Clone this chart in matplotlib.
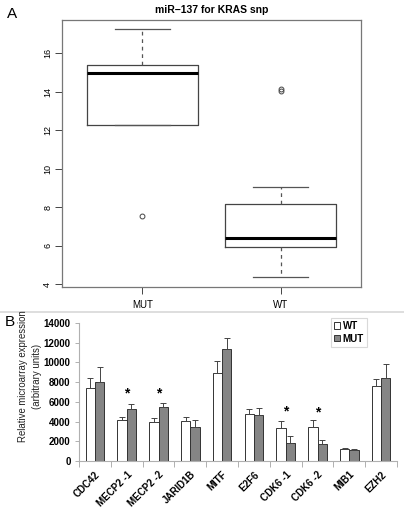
import numpy as np
import matplotlib.pyplot as plt
import matplotlib.transforms as mtransforms

plt.rcParams['font.family'] = ['Liberation Sans', 'DejaVu Sans']

# panel A: box plot stats
box_labels = ['MUT', 'WT']
box_whislo = [12.25, 4.40]
box_q1 = [12.25, 5.93]
box_med = [14.95, 6.42]
box_q3 = [15.37, 8.17]
box_whishi = [17.25, 9.03]
box_fliers = [[7.55], [14.02, 14.15]]

# panel B: microarray expression
genes = ['CDC42', 'MECP2 -1', 'MECP2 -2', 'JARID1B', 'MITF', 'E2F6',
         'CDK6 -1', 'CDK6 -2', 'MIB1', 'EZH2']
wt_vals = [7450, 4170, 3930, 4040, 8880, 4720, 3390, 3490, 1200, 7620]
wt_err = [950, 340, 410, 440, 1290, 550, 710, 710, 100, 700]
mut_vals = [8000, 5230, 5470, 3490, 11400, 4620, 1810, 1680, 1100, 8420]
mut_err = [1520, 520, 380, 710, 1070, 720, 690, 410, 100, 1450]
star_groups = [1, 2, 6, 7]
star_y = [6900, 6900, 5050, 4900]

fig = plt.figure(figsize=(4.04, 5.18), dpi=100)

# ---- panel A ----
axA = fig.add_axes([62/404, 1-286.5/518, (361-62)/404, (286.5-20)/518])
stats = []
for i in range(2):
    stats.append(dict(label=box_labels[i], whislo=box_whislo[i], q1=box_q1[i],
                      med=box_med[i], q3=box_q3[i], whishi=box_whishi[i],
                      fliers=box_fliers[i]))
axA.bxp(stats, positions=[1, 2], widths=0.8, showfliers=True,
        boxprops=dict(color='#444444', lw=0.9),
        medianprops=dict(color='black', lw=2.2),
        whiskerprops=dict(color='#555555', lw=0.9, ls=(0, (3, 3))),
        capprops=dict(color='#555555', lw=0.9),
        capwidths=0.4,
        flierprops=dict(marker='o', markersize=3.5, markerfacecolor='none',
                        markeredgecolor='#444444', markeredgewidth=0.7))
axA.set_xlim(0.42, 2.58)
axA.set_ylim(3.89, 17.71)
axA.set_yticks([4, 6, 8, 10, 12, 14, 16])
axA.tick_params(axis='y', labelsize=6.5, labelrotation=90, length=5, width=0.7,
                color='#444444', pad=2)
axA.tick_params(axis='x', labelsize=7, length=5, width=0.7, color='#444444', pad=5)
for lab in axA.get_yticklabels():
    lab.set_va('center')
for s in axA.spines.values():
    s.set_color('#777777')
    s.set_linewidth(0.9)
axA.set_title('miR\u2212137 for KRAS snp', fontsize=7.5, fontweight='bold', pad=5)
fig.text(12/404, 1-14/518, 'A', fontsize=11, ha='center', va='center')

# separator line
fig.add_artist(plt.Line2D([0, 1], [1-312/518, 1-312/518], color='#d8d8d8', lw=1.2))

# ---- panel B ----
axB = fig.add_axes([79/404, 1-461/518, (397-79)/404, (461-323)/518])
x = np.arange(len(genes)) + 0.5
bw = 0.29
axB.bar(x - bw/2, wt_vals, bw, color='white', edgecolor='#333333', lw=0.7,
        yerr=[np.zeros(len(genes)), wt_err], ecolor='#444444',
        error_kw=dict(lw=0.7, capsize=2, capthick=0.7), label='WT')
axB.bar(x + bw/2, mut_vals, bw, color='#858585', edgecolor='#333333', lw=0.7,
        yerr=[np.zeros(len(genes)), mut_err], ecolor='#444444',
        error_kw=dict(lw=0.7, capsize=2, capthick=0.7), label='MUT')
for g, sy in zip(star_groups, star_y):
    axB.text(x[g], sy, '*', ha='center', va='center', fontsize=10, fontweight='bold')
axB.set_xlim(0, len(genes))
axB.set_ylim(0, 14000)
axB.set_yticks(range(0, 14001, 2000))
axB.set_xticks(x)
axB.set_xticklabels(genes, rotation=45, ha='right', rotation_mode='anchor',
                    fontsize=7, fontweight='bold')
shift = mtransforms.ScaledTranslation(-6/100, -3/100, fig.dpi_scale_trans)
for lab in axB.get_xticklabels():
    lab.set_transform(lab.get_transform() + shift)
axB.set_xticks(np.arange(len(genes) + 1), minor=True)
axB.tick_params(axis='x', which='major', length=0, pad=6)
axB.tick_params(axis='x', which='minor', length=4, width=0.7, color='#b0b0b0')
axB.tick_params(axis='y', length=3, width=0.7, color='#b0b0b0', labelsize=7, pad=3)
for lab in axB.get_yticklabels():
    lab.set_fontweight('bold')
for side in ['top', 'right']:
    axB.spines[side].set_visible(False)
for side in ['left', 'bottom']:
    axB.spines[side].set_color('#b0b0b0')
    axB.spines[side].set_linewidth(0.8)
leg = axB.legend(loc='upper left', bbox_to_anchor=(331/404, 1-318/518),
                 bbox_transform=fig.transFigure, prop=dict(size=7, weight='bold'),
                 frameon=True, fancybox=False, handlelength=0.6, handleheight=0.6,
                 handletextpad=0.3, borderpad=0.3, labelspacing=0.3, borderaxespad=0)
leg.get_frame().set_edgecolor('#d0d0d0')
leg.get_frame().set_linewidth(0.8)
fig.text(30/404, 1-376/518, 'Relative microarray expression\n(arbitrary units)',
         rotation=90, ha='center', va='center', fontsize=6.9, color='#222222',
         linespacing=1.5)
fig.text(10/404, 1-322/518, 'B', fontsize=11, ha='center', va='center')

fig.savefig('out.png', dpi=100)
